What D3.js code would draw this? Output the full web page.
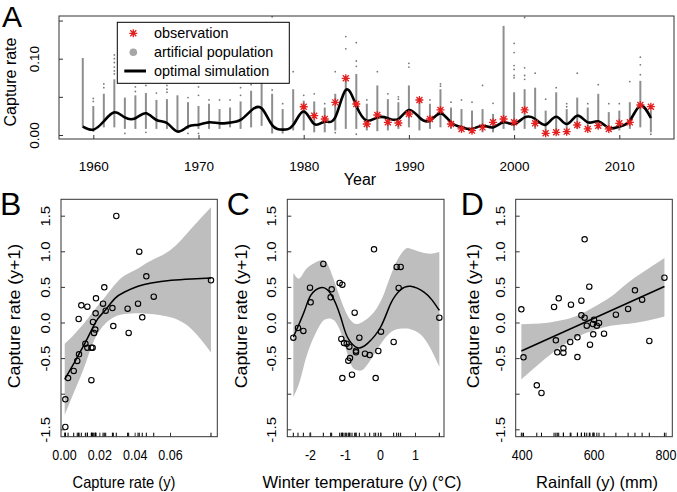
<!DOCTYPE html>
<html><head><meta charset="utf-8">
<script src="https://cdn.jsdelivr.net/npm/d3@7"></script>
<style>body{margin:0;background:#fff} svg{display:block;font-family:"Liberation Sans",Arial,Helvetica,sans-serif}</style>
</head><body><svg id="c" width="677" height="492"></svg>
<script>
// ===== Panel A data =====
const simYears = [1959,1960,1961,1962,1963,1964,1965,1966,1967,1968,1969,1970,1971,1972,1973,1974,1975,1976,1977,1978,1979,
  1980,1981,1982,1983,1984,1985,1986,1987,1988,1989,1990,1991,1992,1993,1994,1995,1996,1997,1998,1999,
  2000,2001,2002,2003,2004,2005,2006,2007,2008,2009,2010,2011,2012,2013];
const simValues = [0.011,0.007,0.018,0.0297,0.023,0.022,0.0284,0.0197,0.0157,0.0045,0.011,0.0135,0.0166,0.0153,0.0162,0.0197,0.032,0.035,0.013,0.007,0.013,
  0.031,0.0144,0.0175,0.023,0.059,0.0384,0.0188,0.023,0.022,0.021,0.0328,0.023,0.0188,0.0284,0.0166,0.010,0.0079,0.0122,0.010,0.0166,
  0.0144,0.023,0.021,0.0135,0.024,0.0144,0.0253,0.0166,0.018,0.0092,0.011,0.0188,0.0384,0.0223];
const obsYears = [1980,1981,1982,1983,1984,1985,1986,1987,1988,1989,1990,1991,1992,1993,1994,1995,1996,1997,1998,1999,
  2000,2001,2002,2003,2004,2005,2006,2007,2008,2009,2010,2011,2012,2013];
const obsValues = [0.037,0.0253,0.021,0.0428,0.0743,0.0406,0.0144,0.0262,0.0166,0.0157,0.0275,0.0459,0.021,0.0328,0.0144,0.0079,0.0057,0.010,0.0166,0.021,
  0.0166,0.0328,0.0153,0.0022,0.0035,0.0044,0.0131,0.0079,0.0122,0.0079,0.0153,0.0166,0.0393,0.0371];
// artificial population: dense range per year + scattered values
const artLow = [0.010,0.004,0.010,0.010,0.008,0.008,0.008,0.008,0.008,0.0035,0.008,0.008,0.008,0.008,0.010,0.008,0.010,0.012,0.002,0.002,0.006,
  0.006,0.0035,0.0035,0.006,0.008,0.008,0.006,0.005,0.006,0.008,0.010,0.006,0.008,0.010,0.008,0.006,0.0035,0.0035,0.0035,0.008,
  0.006,0.008,0.008,0.001,0.006,0.006,0.008,0.008,0.008,0.006,0.006,0.008,0.010,0.0035];
const artHigh = [0.101,0.038,0.054,0.073,0.049,0.052,0.055,0.046,0.047,0.052,0.043,0.038,0.041,0.034,0.036,0.044,0.058,0.073,0.054,0.034,0.060,
  0.045,0.044,0.036,0.054,0.073,0.080,0.041,0.065,0.047,0.043,0.065,0.047,0.041,0.060,0.036,0.034,0.032,0.034,0.0275,0.143,
  0.056,0.060,0.062,0.032,0.056,0.034,0.049,0.036,0.054,0.030,0.032,0.043,0.071,0.032];
const artOutliers = [[],[0.044,0.048],[0.062,0.067],[0.080,0.084,0.089,0.095,0.100,0.105],[0.002],[0.057,0.063],[0.065,0.0035],[0.055],[0.056,0.060,0.065],[],
  [0.049,0.002],[0.052,0.063,0.002],[0.046],[0.046],[0.046],[0.052,0.062],[0.066],[0.086],[0.059,0.083,0.155],[0.041],[0.083],
  [0.052],[0.054],[0.041],[0.083,0.003],[0.113,0.129],[0.090,0.097,0.121,0.001],[0.046],[0.083],[0.054],[0.047,0.050],
  [0.089,0.094],[],[0.046],[0.064,0.067],[0.043],[0.046],[0.043],[0.065],[0.0415],[],
  [0.075,0.078,0.086,0.091,0.108,0.120],[0.073,0.078,0.088,0.154],[0.081],[0.047],[0.062],[0.037,0.041],[0.081],[0.041],[0.066],[0.041],
  [0.041],[0.070],[0.079,0.092,0.102],[0.001]];
const aXTicks = [1960,1970,1980,1990,2000,2010];
const aXLabels = ["1960","1970","1980","1990","2000","2010"];
const aYTicks = [0,0.05,0.10,0.15];
const aYLabels = ["0.00","","0.10",""];
const legendLabels = ["observation","artificial population","optimal simulation"];

// ===== Panel B data =====
const bX = [0.00075,0.00075,0.0023,0.0055,0.0075,0.0085,0.0083,0.0098,0.0121,0.0132,0.0132,0.0155,0.0162,0.0155,0.0164,0.017,0.0177,0.0179,0.0181,
  0.0221,0.0228,0.0236,0.0274,0.0279,0.0296,0.036,0.0366,0.0419,0.0426,0.0443,0.0466,0.0508,0.0832];
const bY = [-1.468,-1.079,-0.78,-0.68,-0.54,-0.447,0.049,0.241,-0.297,0.222,-0.354,-0.354,-0.354,-0.81,0.007,-0.147,-0.1,0.129,0.339,
  0.265,0.494,0.166,0.203,-0.05,1.496,0.194,-0.147,0.265,0.995,0.073,0.648,0.363,0.592];
const bFitX = [0.0004,0.006,0.0117,0.0155,0.0192,0.0236,0.0287,0.0343,0.0419,0.0494,0.0608,0.0721,0.0832];
const bFitY = [-0.80,-0.555,-0.297,-0.11,0.054,0.18,0.335,0.428,0.508,0.555,0.592,0.611,0.625];
const bUpper = [-0.30,-0.16,0.0,0.124,0.24,0.37,0.53,0.66,0.76,0.87,1.03,1.32,1.62];
const bLower = [-1.30,-0.96,-0.61,-0.34,-0.15,-0.01,0.08,0.12,0.13,0.12,0.07,-0.09,-0.42];
const bXTicks = [0,0.02,0.04,0.06];
const bXLabels = ["0.00","0.02","0.04","0.06"];

// ===== Panel C data =====
const cX = [-2.476,-2.343,-2.19,-2.0,-1.981,-1.619,-1.41,-1.381,-1.152,-1.076,-0.171,-0.724,-1.105,-1.029,-0.952,-0.876,-0.905,-0.857,
  -0.686,-0.686,-0.59,-0.429,-0.295,-0.048,0.029,0.39,0.476,0.59,0.533,-1.076,-0.8,-0.124,1.695];
const cY = [-0.213,-0.077,-0.119,0.489,0.283,0.822,0.353,0.466,0.555,0.531,1.028,0.138,-0.232,-0.288,-0.297,-0.339,-0.536,-0.499,
  -0.396,-0.419,-0.213,-0.438,-0.457,-0.400,-0.129,-0.274,0.78,0.78,0.485,-0.78,-0.733,-0.78,0.068];
const cFitX = [-2.476,-2.17,-1.98,-1.70,-1.41,-1.124,-0.933,-0.648,-0.362,0.019,0.305,0.59,0.876,1.257,1.495,1.695];
const cFitY = [-0.204,0.147,0.38,0.489,0.405,0.077,-0.204,-0.353,-0.297,-0.063,0.265,0.46,0.508,0.428,0.311,0.171];
const cBandX = [-2.476,-2.314,-2.171,-1.981,-1.695,-1.505,-1.314,-1.076,-0.838,-0.648,-0.457,-0.171,0.114,0.4,0.686,0.876,1.162,1.448,1.695];
const cUpper = [0.695,0.616,0.709,0.803,0.873,0.826,0.592,0.265,0.03,-0.02,0.021,0.147,0.405,0.78,1.014,1.037,0.99,0.967,0.99];
const cLower = [-1.046,-0.86,-0.60,-0.31,-0.02,0.054,0.03,-0.20,-0.58,-0.67,-0.65,-0.45,-0.24,-0.11,-0.085,-0.095,-0.17,-0.37,-0.625];
const cXTicks = [-2,-1,0,1];
const cXLabels = ["-2","-1","0","1"];

// ===== Panel D data =====
const dX = [399,405,442,455,490,495,499,503,516,516,535,537,555,555,566,566,575,575,581,588,590,598,599,601,609,615,629,662,696,715,735,755,797];
const dY = [0.185,-0.489,-0.882,-0.99,0.218,-0.25,-0.419,0.339,-0.363,-0.424,-0.274,0.251,-0.208,-0.485,0.307,0.101,1.168,0.068,-0.044,0.503,
  -0.311,-0.021,-0.166,0.04,-0.044,-0.007,-0.157,0.11,0.19,0.452,0.321,-0.26,0.63];
const dFitX = [399,797];
const dFitY = [-0.40,0.505];
const dBandX = [399,465,510,556,601,647,692,738,797];
const dUpper = [-0.026,-0.007,0.03,0.10,0.218,0.358,0.545,0.709,0.906];
const dLower = [-0.80,-0.51,-0.34,-0.20,-0.11,-0.045,-0.02,0.015,0.085];
const dXTicks = [400,600,800];
const dXLabels = ["400","600","800"];

// shared y axis for B-D
const sYTicks = [-1.5,-1,-0.5,0,0.5,1,1.5];
const sYLabels = ["-1.5","","-0.5","0.0","0.5","1.0","1.5"];

// ===== drawing =====
const svg = d3.select("#c");
const RED = "#e3201f";

function starPath(s){const t=s*0.75;return `M${-s},0H${s}M0,${-s}V${s}M${-t},${-t}L${t},${t}M${-t},${t}L${t},${-t}`;}
function addText(g, x, y, str, size, o={}) {
  const k = o.k || 1;
  let tr = `translate(${x},${y}) scale(1,${k})`;
  if (o.rot) tr += ` rotate(${o.rot})`;
  return g.append("text").attr("transform", tr).attr("font-size", size)
    .attr("text-anchor", o.anchor || "middle").attr("dy", o.dy || null).attr("fill", "#000").text(str);
}

// ---- Panel A ----
const A = {l:59, r:674, t:16, b:139};
const xA = d3.scaleLinear().domain([1960,2010]).range([93.3,619.3]);
const yA = d3.scaleLinear().domain([0,0.1]).range([135,58.7]);
const gA = svg.append("g");
gA.selectAll("line.col").data(simYears).join("line").attr("class","col")
  .attr("x1",d=>xA(d)).attr("x2",d=>xA(d))
  .attr("y1",(d,i)=>yA(artLow[i])).attr("y2",(d,i)=>yA(artHigh[i]))
  .attr("stroke","#8e8e8e").attr("stroke-width",2);
const outl = simYears.flatMap((yr,i)=>artOutliers[i].map(v=>({yr,v})));
gA.selectAll("circle.out").data(outl).join("circle").attr("class","out")
  .attr("cx",d=>xA(d.yr)).attr("cy",d=>yA(d.v)).attr("r",0.9).attr("fill","#7a7a7a");
gA.append("path").datum(simYears.map((y,i)=>[y,simValues[i]]))
  .attr("d", d3.line().x(d=>xA(d[0])).y(d=>yA(d[1])).curve(d3.curveNatural))
  .attr("fill","none").attr("stroke","#000").attr("stroke-width",2.6);
gA.selectAll("path.obs").data(obsYears).join("path").attr("class","obs")
  .attr("transform",(d,i)=>`translate(${xA(d)},${yA(obsValues[i])})`)
  .attr("d",starPath(4)).attr("stroke",RED).attr("stroke-width",1.3).attr("fill","none");
// legend
const lg = gA.append("g");
lg.append("rect").attr("x",117.3).attr("y",22.3).attr("width",172).attr("height",61)
  .attr("fill","#fff").attr("stroke","#000").attr("stroke-width",1);
const legY = [33.3,52.3,71];
lg.append("path").attr("transform",`translate(133.3,${legY[0]})`).attr("d",starPath(4)).attr("stroke",RED).attr("stroke-width",1.3);
lg.append("circle").attr("cx",133.3).attr("cy",legY[1]).attr("r",3.8).attr("fill","#a6a6a6");
lg.append("line").attr("x1",124.3).attr("x2",146).attr("y1",legY[2]).attr("y2",legY[2]).attr("stroke","#000").attr("stroke-width",3);
legendLabels.forEach((s,i)=>addText(lg,154,legY[i],s,14.4,{anchor:"start",dy:"0.35em"}));
// box & axes
gA.append("rect").attr("x",A.l).attr("y",A.t).attr("width",A.r-A.l).attr("height",A.b-A.t)
  .attr("fill","none").attr("stroke","#333").attr("stroke-width",1);
const axAL = gA.append("g").attr("transform",`translate(${A.l},0)`)
  .call(d3.axisLeft(yA).tickValues(aYTicks).tickSize(-4).tickFormat((d,i)=>aYLabels[i]));
axAL.select(".domain").remove();
axAL.selectAll(".tick line").attr("stroke","#333");
axAL.selectAll(".tick text").attr("x",null).attr("dy","0.35em").attr("font-size",13.5)
  .attr("text-anchor","middle").attr("fill","#000").attr("font-family",null)
  .attr("transform","translate(-24.3,0) rotate(-90)");
const axAB = gA.append("g").attr("transform",`translate(0,${A.b})`)
  .call(d3.axisBottom(xA).tickValues(aXTicks).tickSize(-4).tickFormat((d,i)=>aXLabels[i]));
axAB.select(".domain").remove();
axAB.selectAll(".tick line").attr("stroke","#333");
axAB.selectAll(".tick text").attr("y",null).attr("dy","0.35em").attr("font-size",13.5).attr("fill","#000")
  .attr("font-family",null).attr("transform","translate(0,27)");
addText(gA,360,185,"Year",16);
addText(gA,10,82,"Capture rate",16,{rot:-90,dy:"0.35em"});
addText(gA,2,27,"A",30,{anchor:"start"});

// ---- Panels B, C, D ----
const TOP = 199.3, BOT = 436.7;
const yS = d3.scaleLinear().domain([-1.5,1.5]).range([429.3,215.7]);
function panel(p){
  const g = svg.append("g");
  const x = d3.scaleLinear().domain(p.dom).range(p.rng);
  g.append("path").datum(p.bandX.map((v,i)=>[v,p.lower[i],p.upper[i]]))
    .attr("d", d3.area().x(d=>x(d[0])).y0(d=>yS(d[1])).y1(d=>yS(d[2])).curve(p.curve))
    .attr("fill","#bebebe");
  g.append("path").datum(p.fitX.map((v,i)=>[v,p.fitY[i]]))
    .attr("d", d3.line().x(d=>x(d[0])).y(d=>yS(d[1])).curve(p.curve))
    .attr("fill","none").attr("stroke","#000").attr("stroke-width",1.5);
  g.selectAll("circle").data(p.px).join("circle")
    .attr("cx",d=>x(d)).attr("cy",(d,i)=>yS(p.py[i])).attr("r",2.7)
    .attr("fill","none").attr("stroke","#000").attr("stroke-width",1.1);
  // rug
  g.selectAll("line.rug").data(p.px).join("line").attr("class","rug")
    .attr("x1",d=>x(d)).attr("x2",d=>x(d)).attr("y1",BOT).attr("y2",BOT-4)
    .attr("stroke","#000").attr("stroke-width",1);
  g.append("rect").attr("x",p.l).attr("y",TOP).attr("width",p.r-p.l).attr("height",BOT-TOP)
    .attr("fill","none").attr("stroke","#333").attr("stroke-width",1);
  const axL = g.append("g").attr("transform",`translate(${p.l},0)`)
    .call(d3.axisLeft(yS).tickValues(sYTicks).tickSize(-4).tickFormat((d,i)=>sYLabels[i]));
  axL.select(".domain").remove();
  axL.selectAll(".tick line").attr("stroke","#333");
  axL.selectAll(".tick text").attr("x",null).attr("dy","0.35em").attr("font-size",13)
    .attr("text-anchor","middle").attr("fill","#000").attr("font-family",null)
    .attr("transform",`translate(${p.ylo},0) scale(1,1.15) rotate(-90)`);
  const axB = g.append("g").attr("transform",`translate(0,${BOT})`)
    .call(d3.axisBottom(x).tickValues(p.ticks).tickSize(-4).tickFormat((d,i)=>p.labels[i]));
  axB.select(".domain").remove();
  axB.selectAll(".tick line").attr("stroke","#333");
  axB.selectAll(".tick text").attr("y",null).attr("dy","0.35em").attr("font-size",12.5).attr("fill","#000")
    .attr("font-family",null).attr("transform","translate(0,18.3) scale(1,1.2)");
  addText(g,p.xtX,488,p.xtitle,p.xtSize,{k:p.xtK});
  addText(g,p.ytX,316,"Capture rate (y+1)",16,{rot:-90,dy:"0.35em",k:1.11});
  addText(g,p.letX,215,p.letter,32,{anchor:"start"});
}
panel({l:61,r:217.3,dom:[0,0.06],rng:[64,170],px:bX,py:bY,fitX:bFitX,fitY:bFitY,bandX:bFitX,upper:bUpper,lower:bLower,
  curve:d3.curveNatural,ticks:bXTicks,labels:bXLabels,ylo:-16,xtitle:"Capture rate (y)",xtX:124,xtSize:14.7,xtK:1.11,ytX:14,letter:"B",letX:0});
panel({l:287.3,r:444,dom:[-2,1],rng:[310,415],px:cX,py:cY,fitX:cFitX,fitY:cFitY,bandX:cBandX,upper:cUpper,lower:cLower,
  curve:d3.curveNatural,ticks:cXTicks,labels:cXLabels,ylo:-15.6,xtitle:"Winter temperature (y) (°C)",xtX:362,xtSize:16.5,xtK:1,ytX:241.5,letter:"C",letX:226.7});
panel({l:515.7,r:672.3,dom:[400,800],rng:[521.7,665.5],px:dX,py:dY,fitX:dFitX,fitY:dFitY,bandX:dBandX,upper:dUpper,lower:dLower,
  curve:d3.curveNatural,ticks:dXTicks,labels:dXLabels,ylo:-15.7,xtitle:"Rainfall (y) (mm)",xtX:597,xtSize:16.5,xtK:1,ytX:473,letter:"D",letX:460.8});
</script></body></html>
